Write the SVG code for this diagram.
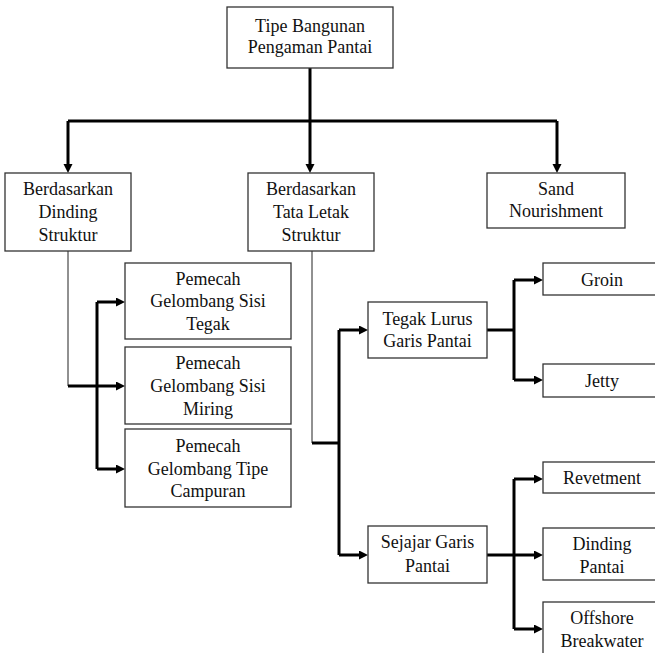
<svg xmlns="http://www.w3.org/2000/svg" width="655" height="653" viewBox="0 0 655 653">
<style>
.box{fill:#fff;stroke:#333;stroke-width:1.3}
.t{font-family:"Liberation Serif",serif;font-size:18px;fill:#111;text-anchor:middle}
.thick{fill:none;stroke:#000;stroke-width:3}
.thin{fill:none;stroke:#222;stroke-width:1}
</style>
<defs>
<marker id="ah" markerUnits="userSpaceOnUse" markerWidth="10" markerHeight="10" refX="3" refY="4.5" orient="auto">
<path d="M0,0 L9,4.5 L0,9 z" fill="#000"/>
</marker>
</defs>
<rect width="655" height="653" fill="#fff"/>
<g id="connectors">
<path class="thick" d="M310,68 V167" marker-end="url(#ah)"/>
<path class="thick" d="M68,121 H557"/>
<path class="thick" d="M68,121 V167" marker-end="url(#ah)"/>
<path class="thick" d="M557,121 V167" marker-end="url(#ah)"/>
<path class="thin" d="M68,251 V386"/>
<path class="thick" d="M68,386 H119" marker-end="url(#ah)"/>
<path class="thick" d="M97,302 V469"/>
<path class="thick" d="M97,302 H119" marker-end="url(#ah)"/>
<path class="thick" d="M97,469 H119" marker-end="url(#ah)"/>
<path class="thin" d="M312,251 V443"/>
<path class="thick" d="M312,443 H339"/>
<path class="thick" d="M339,330 V555"/>
<path class="thick" d="M339,330 H362" marker-end="url(#ah)"/>
<path class="thick" d="M339,555 H362" marker-end="url(#ah)"/>
<path class="thick" d="M487,330 H514"/>
<path class="thick" d="M514,280 V380"/>
<path class="thick" d="M514,280 H537" marker-end="url(#ah)"/>
<path class="thick" d="M514,380 H537" marker-end="url(#ah)"/>
<path class="thick" d="M487,555 H514"/>
<path class="thick" d="M514,479 V629"/>
<path class="thick" d="M514,479 H537" marker-end="url(#ah)"/>
<path class="thick" d="M514,555 H537" marker-end="url(#ah)"/>
<path class="thick" d="M514,629 H537" marker-end="url(#ah)"/>
</g>
<g id="root"><rect class="box" x="227" y="7" width="166" height="61"/><text class="t" x="310" y="32">Tipe Bangunan</text><text class="t" x="310" y="53">Pengaman Pantai</text></g>
<g id="dinding-struktur"><rect class="box" x="5" y="173" width="126" height="78"/><text class="t" x="68" y="195">Berdasarkan</text><text class="t" x="68" y="218">Dinding</text><text class="t" x="68" y="241">Struktur</text></g>
<g id="tata-letak"><rect class="box" x="248" y="173" width="126" height="78"/><text class="t" x="311" y="195">Berdasarkan</text><text class="t" x="311" y="218">Tata Letak</text><text class="t" x="311" y="241">Struktur</text></g>
<g id="sand"><rect class="box" x="487" y="173" width="138" height="55"/><text class="t" x="556" y="195">Sand</text><text class="t" x="556" y="217">Nourishment</text></g>
<g id="sisi-tegak"><rect class="box" x="125" y="263" width="166" height="76"/><text class="t" x="208" y="285">Pemecah</text><text class="t" x="208" y="307">Gelombang Sisi</text><text class="t" x="208" y="330">Tegak</text></g>
<g id="sisi-miring"><rect class="box" x="125" y="347" width="166" height="77"/><text class="t" x="208" y="369">Pemecah</text><text class="t" x="208" y="392">Gelombang Sisi</text><text class="t" x="208" y="415">Miring</text></g>
<g id="campuran"><rect class="box" x="125" y="429" width="166" height="78"/><text class="t" x="208" y="452">Pemecah</text><text class="t" x="208" y="475">Gelombang Tipe</text><text class="t" x="208" y="497">Campuran</text></g>
<g id="tegak-lurus"><rect class="box" x="368" y="302" width="119" height="56"/><text class="t" x="427.5" y="325">Tegak Lurus</text><text class="t" x="427.5" y="347">Garis Pantai</text></g>
<g id="sejajar"><rect class="box" x="368" y="526" width="119" height="57"/><text class="t" x="427.5" y="548">Sejajar Garis</text><text class="t" x="427.5" y="572">Pantai</text></g>
<g id="groin"><rect class="box" x="543" y="263" width="119" height="32"/><text class="t" x="602" y="286">Groin</text></g>
<g id="jetty"><rect class="box" x="543" y="364" width="119" height="33"/><text class="t" x="602" y="387">Jetty</text></g>
<g id="revetment"><rect class="box" x="543" y="462" width="119" height="31"/><text class="t" x="602" y="484">Revetment</text></g>
<g id="dinding-pantai"><rect class="box" x="543" y="528" width="119" height="52"/><text class="t" x="602" y="550">Dinding</text><text class="t" x="602" y="573">Pantai</text></g>
<g id="offshore"><rect class="box" x="543" y="602" width="119" height="60"/><text class="t" x="602" y="624">Offshore</text><text class="t" x="602" y="647">Breakwater</text></g>
</svg>
